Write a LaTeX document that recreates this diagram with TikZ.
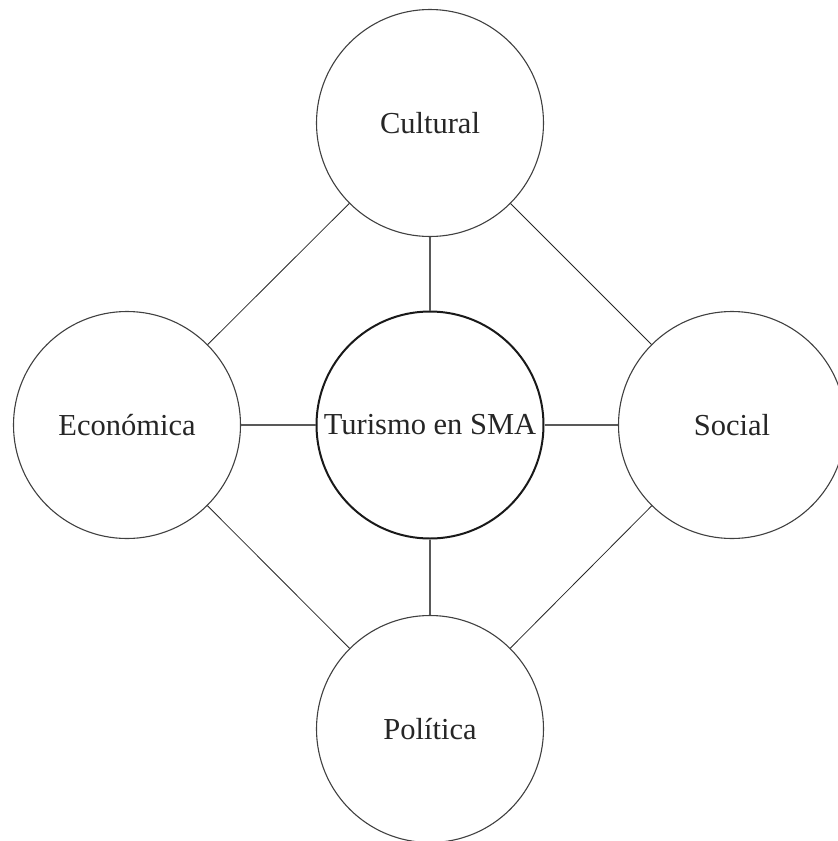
\documentclass[tikz,border=0pt]{standalone}
\usepackage{fontspec}
\setmainfont{Liberation Serif}
\begin{document}
\begin{tikzpicture}[x=1pt,y=-1pt,
  sat/.style={circle,draw=black!75,line width=1.1pt,minimum size=227pt,inner sep=0pt,
    font=\fontsize{30.5}{36}\selectfont,text=black!85},
  hub/.style={circle,draw=black!90,line width=2pt,minimum size=227pt,inner sep=0pt,
    font=\fontsize{30.5}{36}\selectfont,text=black!85},
  diag/.style={draw=black!85,line width=0.8pt},
  axis/.style={draw=black!65,line width=1.5pt}]
\useasboundingbox (0,0) rectangle (838,841);
\clip (0,0) rectangle (838,841);
\node[hub] (t) at (430,425) {Turismo en SMA};
\node[sat] (c) at (430,123) {Cultural};
\node[sat] (p) at (430,729) {Política};
\node[sat] (e) at (127,425) {Económica};
\node[sat] (s) at (732,425) {Social};
\draw[axis] (c) -- (t);
\draw[axis] (t) -- (p);
\draw[axis] (e) -- (t);
\draw[axis] (t) -- (s);
\draw[diag] (c) -- (e);
\draw[diag] (c) -- (s);
\draw[diag] (e) -- (p);
\draw[diag] (s) -- (p);
\end{tikzpicture}
\end{document}
